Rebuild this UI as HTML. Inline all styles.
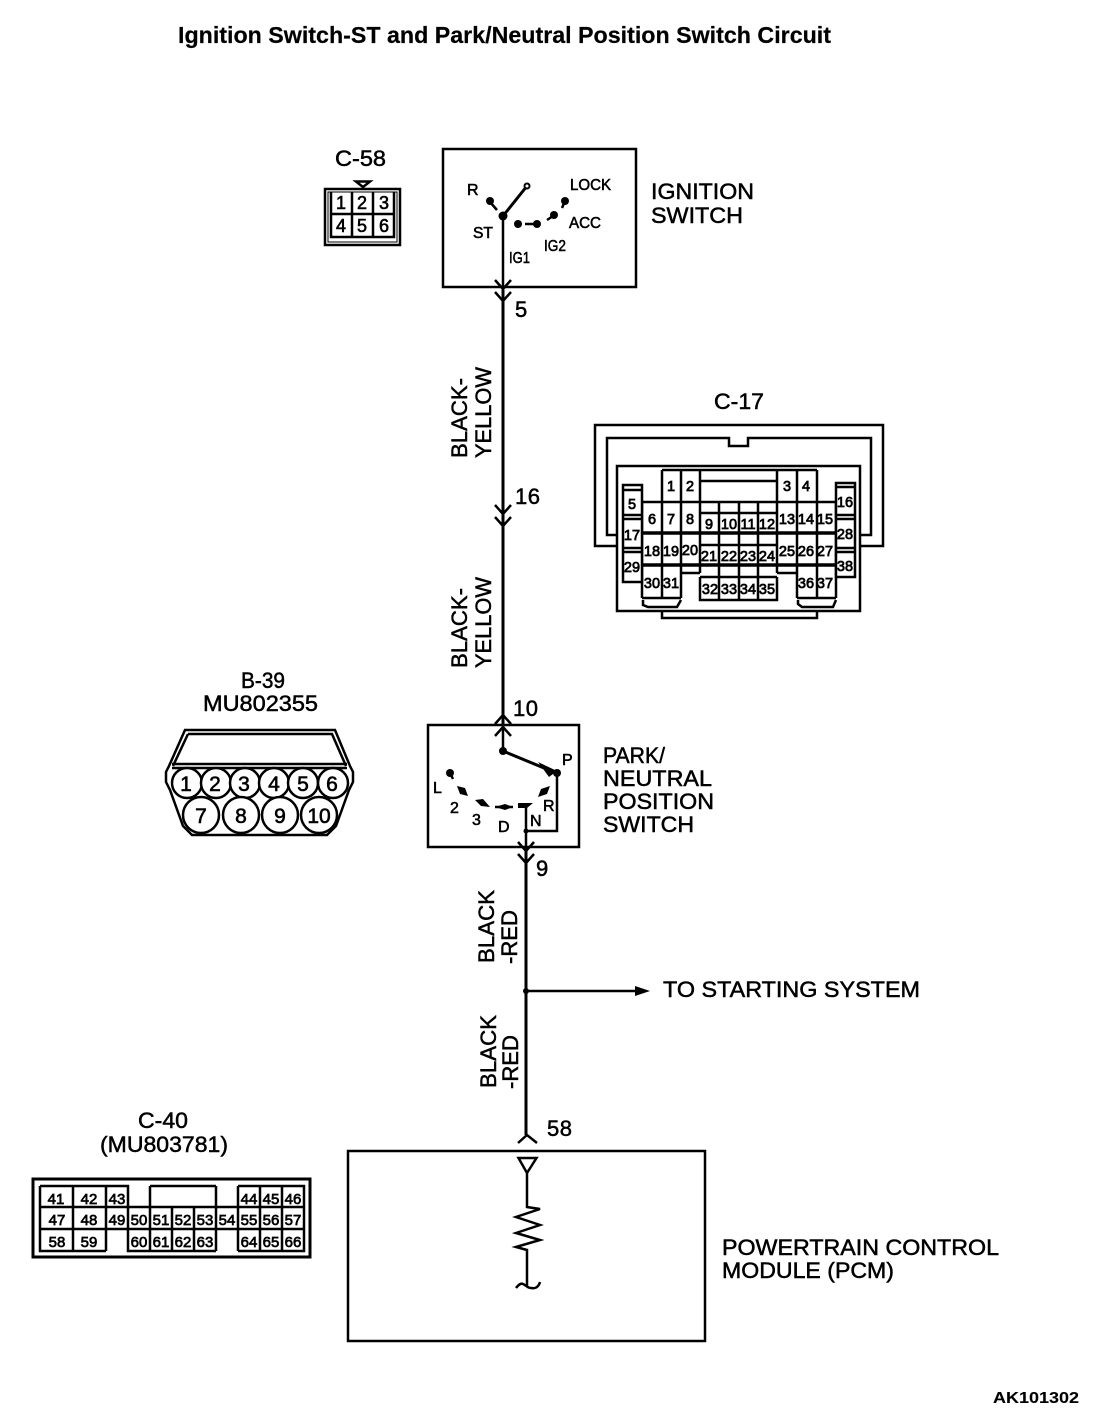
<!DOCTYPE html>
<html><head><meta charset="utf-8"><style>
html,body{margin:0;padding:0;background:#fff}
svg{display:block}
text{font-family:"Liberation Sans",sans-serif;fill:#000;stroke:#000;stroke-width:.5}
.s{font-size:14.5px;text-anchor:middle;stroke-width:.75}
.c{font-size:15px;text-anchor:middle;stroke-width:.7}
.m{font-size:18px;text-anchor:middle;stroke-width:.6}
.b{font-size:21px;text-anchor:middle;stroke-width:.6}
.l{font-size:22px}
.t{font-size:16px;stroke-width:.55}
</style></head><body>
<svg width="1120" height="1426" viewBox="0 0 1120 1426" xmlns="http://www.w3.org/2000/svg">
<rect width="1120" height="1426" fill="#fff"/>
<text x="178" y="43" font-size="23" font-weight="bold" textLength="653" lengthAdjust="spacingAndGlyphs" style="stroke-width:.2">Ignition Switch-ST and Park/Neutral Position Switch Circuit</text>
<text x="993" y="1403" font-size="16" font-weight="bold" textLength="86" lengthAdjust="spacingAndGlyphs" style="stroke-width:.1">AK101302</text>

<g fill="none" stroke="#000">
<!-- main boxes -->
<rect x="443" y="149" width="193" height="138" stroke-width="2.5"/>
<rect x="428" y="725" width="151" height="122" stroke-width="2.5"/>
<rect x="348" y="1151" width="357" height="190" stroke-width="2.5"/>
<!-- main wires -->
<path d="M503 218V290" stroke-width="2.5"/>
<path d="M503 290V725" stroke-width="3"/>
<path d="M503 725V752" stroke-width="2.5"/>
<path d="M526 805V847" stroke-width="2.5"/>
<path d="M526 847V1135" stroke-width="3"/>
<!-- chevrons -->
<path d="M495 280L503 289L511 280M495 292L503 301L511 292M495 505L503 514L511 505M495 517L503 526L511 517M495 724L503 715L511 724M495 736L503 727L511 736M518 842L526 851L534 842M518 854L526 863L534 854M518 1143L527 1135L537 1143" stroke-width="2.5"/>
<!-- branch -->
<path d="M526 991H640" stroke-width="2.5"/>
<!-- ignition switch -->
<path d="M503 216L527 186" stroke-width="3"/>
<path d="M490 202L497 210M525 224H534M553 216L547 220M565 201L562 208" stroke-width="2.5"/>
<!-- PNP switch -->
<path d="M503 751L556 773" stroke-width="3"/>
<path d="M557 773V831H526" stroke-width="2.5"/>
<path d="M450 773L453 779M495 807H513" stroke-width="2.5"/>
<!-- PCM symbol -->
<path d="M518.500 1158H536.500L527 1173ZM527 1173V1207L540 1209L516 1217L540 1225L516 1233L540 1240L516 1247L527 1250V1287" stroke-width="2.5"/>
<path d="M516 1288C519 1284 521 1283 523 1284C526 1285 527 1288 531 1288C536 1289 539 1286 540 1282" stroke-width="2.5"/>
</g>
<g fill="#000">
<circle cx="503" cy="216" r="4.500"/><circle cx="527" cy="186" r="2.500" fill="#fff" stroke="#000" stroke-width="2"/>
<circle cx="490" cy="201" r="4"/><circle cx="518" cy="224" r="4"/><circle cx="537" cy="224" r="4"/><circle cx="554" cy="215" r="4"/><circle cx="565" cy="201" r="4"/>
<circle cx="503" cy="751" r="4"/><circle cx="557" cy="773" r="4"/><path d="M538 762L557 771L549 777Z"/>
<circle cx="450" cy="773" r="4"/><path d="M457 786L465 788L468 796L460 794Z"/><path d="M475 800L483 799L490 807L481 806Z"/><path d="M495 807L505 804L513 807L505 810Z"/><path d="M518 803H533L527 808H518Z"/><path d="M538 797L541 789L550 786L547 794Z"/><circle cx="526" cy="831" r="2.500"/>
<circle cx="526" cy="991" r="3"/>
<path d="M635 986L650 991L635 996Z"/>
</g>

<!-- labels -->
<text class="l" x="335" y="166" textLength="51" lengthAdjust="spacingAndGlyphs">C-58</text>
<text class="l" x="651" y="199" textLength="103" lengthAdjust="spacingAndGlyphs">IGNITION</text>
<text class="l" x="651" y="223" textLength="92" lengthAdjust="spacingAndGlyphs">SWITCH</text>
<text class="t" x="467" y="195">R</text>
<text class="t" x="570" y="190" textLength="41" lengthAdjust="spacingAndGlyphs">LOCK</text>
<text class="t" x="569" y="228" textLength="32" lengthAdjust="spacingAndGlyphs">ACC</text>
<text class="t" x="473" y="238" textLength="20" lengthAdjust="spacingAndGlyphs">ST</text>
<text class="t" x="544" y="251" textLength="22" lengthAdjust="spacingAndGlyphs">IG2</text>
<text class="t" x="509" y="263" textLength="21" lengthAdjust="spacingAndGlyphs">IG1</text>
<text class="l" x="515" y="317">5</text>
<text class="l" x="515" y="504" textLength="25">16</text>
<text class="l" x="513" y="716" textLength="25">10</text>
<text class="l" x="536" y="876">9</text>
<text class="l" x="547" y="1136" textLength="25">58</text>
<text class="l" x="714" y="409" textLength="50" lengthAdjust="spacingAndGlyphs">C-17</text>
<text class="l" x="241" y="688" textLength="44" lengthAdjust="spacingAndGlyphs">B-39</text>
<text class="l" x="203" y="711" textLength="115" lengthAdjust="spacingAndGlyphs">MU802355</text>
<text class="l" x="603" y="763" textLength="62" lengthAdjust="spacingAndGlyphs">PARK/</text>
<text class="l" x="603" y="786" textLength="109" lengthAdjust="spacingAndGlyphs">NEUTRAL</text>
<text class="l" x="603" y="809" textLength="111" lengthAdjust="spacingAndGlyphs">POSITION</text>
<text class="l" x="603" y="832" textLength="91" lengthAdjust="spacingAndGlyphs">SWITCH</text>
<text class="t" x="562" y="765">P</text>
<text class="t" x="433" y="793">L</text>
<text class="t" x="450" y="813">2</text>
<text class="t" x="472" y="825">3</text>
<text class="t" x="498" y="832">D</text>
<text class="t" x="530" y="826">N</text>
<text class="t" x="543" y="811">R</text>
<text class="l" x="663" y="997" textLength="257" lengthAdjust="spacingAndGlyphs">TO STARTING SYSTEM</text>
<text class="l" x="138" y="1128" textLength="50" lengthAdjust="spacingAndGlyphs">C-40</text>
<text class="l" x="100" y="1152" textLength="128" lengthAdjust="spacingAndGlyphs">(MU803781)</text>
<text class="l" x="722" y="1255" textLength="277" lengthAdjust="spacingAndGlyphs">POWERTRAIN CONTROL</text>
<text class="l" x="722" y="1278" textLength="172" lengthAdjust="spacingAndGlyphs">MODULE (PCM)</text>

<text class="l" transform="translate(467 458) rotate(-90)" textLength="80" lengthAdjust="spacingAndGlyphs">BLACK-</text>
<text class="l" transform="translate(491 458) rotate(-90)" textLength="91" lengthAdjust="spacingAndGlyphs">YELLOW</text>
<text class="l" transform="translate(467 668) rotate(-90)" textLength="80" lengthAdjust="spacingAndGlyphs">BLACK-</text>
<text class="l" transform="translate(491 668) rotate(-90)" textLength="91" lengthAdjust="spacingAndGlyphs">YELLOW</text>
<text class="l" transform="translate(494 963) rotate(-90)" textLength="73" lengthAdjust="spacingAndGlyphs">BLACK</text>
<text class="l" transform="translate(517 964) rotate(-90)" textLength="54" lengthAdjust="spacingAndGlyphs">-RED</text>
<text class="l" transform="translate(496 1088) rotate(-90)" textLength="73" lengthAdjust="spacingAndGlyphs">BLACK</text>
<text class="l" transform="translate(518 1089) rotate(-90)" textLength="54" lengthAdjust="spacingAndGlyphs">-RED</text>

<!-- C-58 connector -->
<g fill="none" stroke="#000">
<path d="M356 181.500H370L363 187Z" stroke-width="2.500"/>
<rect x="325" y="189" width="75" height="56" stroke-width="2.500"/>
<rect x="328" y="192" width="69" height="50" stroke-width="1"/>
<path d="M331 192V237H394V192M331 214H394M352 192V237M373 192V237" stroke-width="2.500"/>
</g>
<text class="m" x="341" y="209">1</text><text class="m" x="362" y="209">2</text><text class="m" x="384" y="209">3</text>
<text class="m" x="341" y="232">4</text><text class="m" x="362" y="232">5</text><text class="m" x="384" y="232">6</text>

<!-- C-17 connector -->
<g fill="none" stroke="#000" stroke-width="2.500">
<path d="M617 546H595V425H883V546H860"/>
<path d="M617 535H607V438H729V446H748V438H871V535H860"/>
<path d="M617 466H860V611H617Z" fill="#fff"/>
<path d="M662 611V618H817V611"/>
<!-- top cells -->
<path d="M662 470H817M700 481H777M662 470V598M681 470V598M700 470V573M777 470V573M797 470V598M817 470V598M836 502V598M642 502V598"/>
<path d="M642 502H700M777 502H836M700 502H777M700 513H777M700 545H777M700 577H777"/>
<path d="M719 502V600M739 502V600M758 502V600M700 577V600H777V577"/>
<path d="M681 573H700M777 573H797"/>
<path d="M642 533H836M642 565H836" stroke-width="3.500"/>
<path d="M623 485H642V582H623ZM836 483H855V577H836Z" fill="#fff"/>
<path d="M623 490H642M623 515H642M623 519H642M623 548H642M623 552H642M836 487H855M836 515H855M836 519H855M836 548H855M836 552H855"/>
<path d="M642 598H681M643 600V605L648 607H677L681 600M797 598H836M798 600V604L802 607H833L836 600"/>
</g>
<g>
<text class="s" x="671" y="491">1</text><text class="s" x="690" y="491">2</text><text class="s" x="787" y="491">3</text><text class="s" x="806" y="491">4</text>
<text class="s" x="632" y="509">5</text><text class="s" x="652" y="524">6</text><text class="s" x="671" y="524">7</text><text class="s" x="690" y="524">8</text>
<text class="s" x="709" y="529">9</text><text class="s" x="729" y="529">10</text><text class="s" x="748" y="529">11</text><text class="s" x="767" y="529">12</text>
<text class="s" x="787" y="524">13</text><text class="s" x="806" y="524">14</text><text class="s" x="825" y="524">15</text><text class="s" x="845" y="507">16</text>
<text class="s" x="632" y="540">17</text><text class="s" x="652" y="556">18</text><text class="s" x="671" y="556">19</text><text class="s" x="690" y="555">20</text>
<text class="s" x="709" y="561">21</text><text class="s" x="729" y="561">22</text><text class="s" x="748" y="561">23</text><text class="s" x="767" y="561">24</text>
<text class="s" x="787" y="556">25</text><text class="s" x="806" y="556">26</text><text class="s" x="825" y="556">27</text><text class="s" x="845" y="539">28</text>
<text class="s" x="632" y="572">29</text><text class="s" x="652" y="588">30</text><text class="s" x="671" y="588">31</text>
<text class="s" x="710" y="594">32</text><text class="s" x="729" y="594">33</text><text class="s" x="748" y="594">34</text><text class="s" x="767" y="594">35</text>
<text class="s" x="806" y="588">36</text><text class="s" x="825" y="588">37</text><text class="s" x="845" y="571">38</text>
</g>

<!-- B-39 connector -->
<g fill="none" stroke="#000" stroke-width="2.500">
<path d="M185 730H335L350 766L353 772L353 782L349 790L336 826L327 835H192L183 826L170 790L166 782L166 772L169 766Z"/>
<path d="M188 734H332L346 766M188 734L173 766"/>
<path d="M172 764H347M172 768H347"/>
<g fill="#fff">
<circle cx="187" cy="783" r="15"/><circle cx="216" cy="783" r="15"/><circle cx="245" cy="783" r="15"/><circle cx="274" cy="783" r="15"/><circle cx="303" cy="783" r="15"/><circle cx="333" cy="783" r="15"/>
<circle cx="201" cy="815" r="18"/><circle cx="241" cy="815" r="18"/><circle cx="280" cy="815" r="18"/><circle cx="319" cy="815" r="18"/>
</g>
</g>
<g>
<text class="b" x="186" y="791">1</text><text class="b" x="215" y="791">2</text><text class="b" x="244" y="791">3</text><text class="b" x="274" y="791">4</text><text class="b" x="303" y="791">5</text><text class="b" x="332" y="791">6</text>
<text class="b" x="201" y="823">7</text><text class="b" x="241" y="823">8</text><text class="b" x="280" y="823">9</text><text class="b" x="319" y="823">10</text>
</g>

<!-- C-40 connector -->
<g fill="none" stroke="#000">
<rect x="33" y="1179" width="277" height="78" stroke-width="3"/>
<path d="M40 1186H128V1207M40 1186V1251H106M40 1207H304M40 1229H304M73 1186V1251M106 1186V1251M128 1186V1229M150 1186V1251M150 1186H216M128 1229V1251H216M172 1207V1251M194 1207V1251M216 1186V1251M238 1186V1251M238 1186H304V1251H238M260 1186V1251M282 1186V1251" stroke-width="2.500"/>
</g>
<g>
<text class="c" x="56" y="1204">41</text><text class="c" x="89" y="1204">42</text><text class="c" x="117" y="1204">43</text><text class="c" x="249" y="1204">44</text><text class="c" x="271" y="1204">45</text><text class="c" x="293" y="1204">46</text>
<text class="c" x="57" y="1225">47</text><text class="c" x="89" y="1225">48</text><text class="c" x="117" y="1225">49</text><text class="c" x="139" y="1225">50</text><text class="c" x="161" y="1225">51</text><text class="c" x="183" y="1225">52</text><text class="c" x="205" y="1225">53</text><text class="c" x="227" y="1225">54</text><text class="c" x="249" y="1225">55</text><text class="c" x="271" y="1225">56</text><text class="c" x="293" y="1225">57</text>
<text class="c" x="57" y="1247">58</text><text class="c" x="89" y="1247">59</text><text class="c" x="139" y="1247">60</text><text class="c" x="161" y="1247">61</text><text class="c" x="183" y="1247">62</text><text class="c" x="205" y="1247">63</text><text class="c" x="249" y="1247">64</text><text class="c" x="271" y="1247">65</text><text class="c" x="293" y="1247">66</text>
</g>
</svg>
</body></html>
